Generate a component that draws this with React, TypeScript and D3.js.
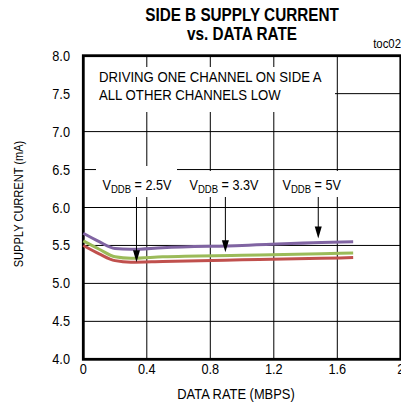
import * as d3 from "d3";

// Data
const dataRate = [0, 0.1, 0.2, 0.3, 0.5, 1.0, 1.5, 1.7];
const vddb5 = [5.66, 5.55, 5.46, 5.45, 5.47, 5.5, 5.54, 5.55];
const vddb33 = [5.56, 5.45, 5.35, 5.33, 5.35, 5.37, 5.39, 5.4];
const vddb25 = [5.5, 5.39, 5.3, 5.28, 5.29, 5.31, 5.33, 5.34];

const xTicks = [0, 0.4, 0.8, 1.2, 1.6, 2];
const xTickLabels = ["0", "0.4", "0.8", "1.2", "1.6", "2"];
const yTicks = [4.0, 4.5, 5.0, 5.5, 6.0, 6.5, 7.0, 7.5, 8.0];

const seriesNames = ["5V", "3.3V", "2.5V"];
const seriesColors = ["#8064a2", "#9bbb59", "#c0504d"];

// annotation arrows: x position (data rate) and tip value (mA)
const arrowLabels = ["2.5V", "3.3V", "5V"];
const arrowX = [0.335, 0.895, 1.48];
const arrowTip = [5.28, 5.41, 5.59];

const W = 401;
const H = 417;
const FONT = "'Liberation Sans', Arial, sans-serif";
// the original uses a narrow face, so squeeze the text horizontally
const SQ = 0.85;

const NText = ({ x, y, sx = SQ, rotate = 0, children, ...rest }: any) => (
  <text
    transform={`translate(${x},${y})${rotate ? ` rotate(${rotate})` : ""} scale(${sx},1)`}
    {...rest}
  >
    {children}
  </text>
);

const App = () => {
  const x = d3.scaleLinear().domain([0, 2]).range([83.3, 400.8]);
  const y = d3.scaleLinear().domain([4, 8]).range([359.3, 55.7]);

  const line = d3
    .line<number>()
    .x((_d, i) => x(dataRate[i]))
    .y((d) => y(d))
    .curve(d3.curveMonotoneX);

  const series = [vddb5, vddb33, vddb25];
  const labelTop = 197;

  return (
    <svg
      width={W}
      height={H}
      style={{ position: "absolute", left: 0, top: 0, background: "#fff" }}
      fontFamily={FONT}
    >
      {/* title */}
      <NText x={242} y={21} textAnchor="middle" fontWeight="bold" fontSize={18}>
        SIDE B SUPPLY CURRENT
      </NText>
      <NText x={242} y={40} textAnchor="middle" fontWeight="bold" fontSize={18}>
        vs. DATA RATE
      </NText>
      <NText x={401} y={48} sx={0.95} textAnchor="end" fontSize={12}>
        toc02
      </NText>

      {/* grid */}
      <g stroke="#000" strokeWidth={1}>
        {xTicks.slice(1, -1).map((t) => (
          <line key={"gx" + t} x1={x(t)} x2={x(t)} y1={y(8)} y2={y(4)} />
        ))}
        {yTicks.slice(1, -1).map((t) => (
          <line key={"gy" + t} x1={x(0)} x2={x(2)} y1={y(t)} y2={y(t)} />
        ))}
      </g>

      {/* white backgrounds behind annotations */}
      <g fill="#fff">
        <rect x={x(0)} y={67} width={335 - x(0)} height={45} />
        <rect x={96} y={166} width={81} height={31} />
        <rect x={186} y={171} width={78} height={26} />
        <rect x={279} y={171} width={66} height={26} />
      </g>

      {/* frame */}
      <rect
        x={x(0)}
        y={y(8)}
        width={x(2) - x(0)}
        height={y(4) - y(8)}
        fill="none"
        stroke="#000"
        strokeWidth={2.8}
      />

      {/* curves */}
      {series.map((s, i) => (
        <path
          key={seriesNames[i]}
          d={line(s) || ""}
          fill="none"
          stroke={seriesColors[i]}
          strokeWidth={3}
          strokeLinejoin="round"
        />
      ))}

      {/* arrows */}
      {arrowX.map((ax, i) => {
        const px = x(ax);
        const tip = y(arrowTip[i]);
        return (
          <g key={"arrow" + i}>
            <line x1={px} x2={px} y1={labelTop} y2={tip - 10} stroke="#000" strokeWidth={1} />
            <path d={`M${px - 3.5},${tip - 12}L${px + 3.5},${tip - 12}L${px},${tip}Z`} fill="#000" />
          </g>
        );
      })}

      {/* annotation text */}
      <g fontSize={15.5}>
        <NText x={99} y={82}>DRIVING ONE CHANNEL  ON SIDE A</NText>
        <NText x={99} y={99.5}>ALL OTHER CHANNELS LOW</NText>
      </g>
      <g fontSize={14.5}>
        {arrowLabels.map((lab, i) => {
          const lx = [102.5, 189.5, 282.5][i];
          return (
            <NText key={lab} x={lx} y={190} sx={0.87}>
              V
              <tspan fontSize={11} dy={3}>DDB</tspan>
              <tspan dy={-3}>{" = " + lab}</tspan>
            </NText>
          );
        })}
      </g>

      {/* y tick labels */}
      <g fontSize={14.5} textAnchor="end">
        {yTicks.map((t) => (
          <NText key={"yl" + t} x={70} y={y(t) + 5} sx={0.88}>
            {t.toFixed(1)}
          </NText>
        ))}
      </g>

      {/* x tick labels */}
      <g fontSize={14.5} textAnchor="middle">
        {xTicks.map((t, i) => (
          <NText key={"xl" + t} x={x(t)} y={373.5} sx={0.88}>
            {xTickLabels[i]}
          </NText>
        ))}
      </g>

      {/* axis titles */}
      <NText x={236} y={399} textAnchor="middle" fontSize={15} sx={0.86}>
        DATA RATE (MBPS)
      </NText>
      <NText x={23} y={204} rotate={-90} textAnchor="middle" fontSize={13.5} sx={0.82}>
        SUPPLY CURRENT  (mA)
      </NText>
    </svg>
  );
};

export default App;
